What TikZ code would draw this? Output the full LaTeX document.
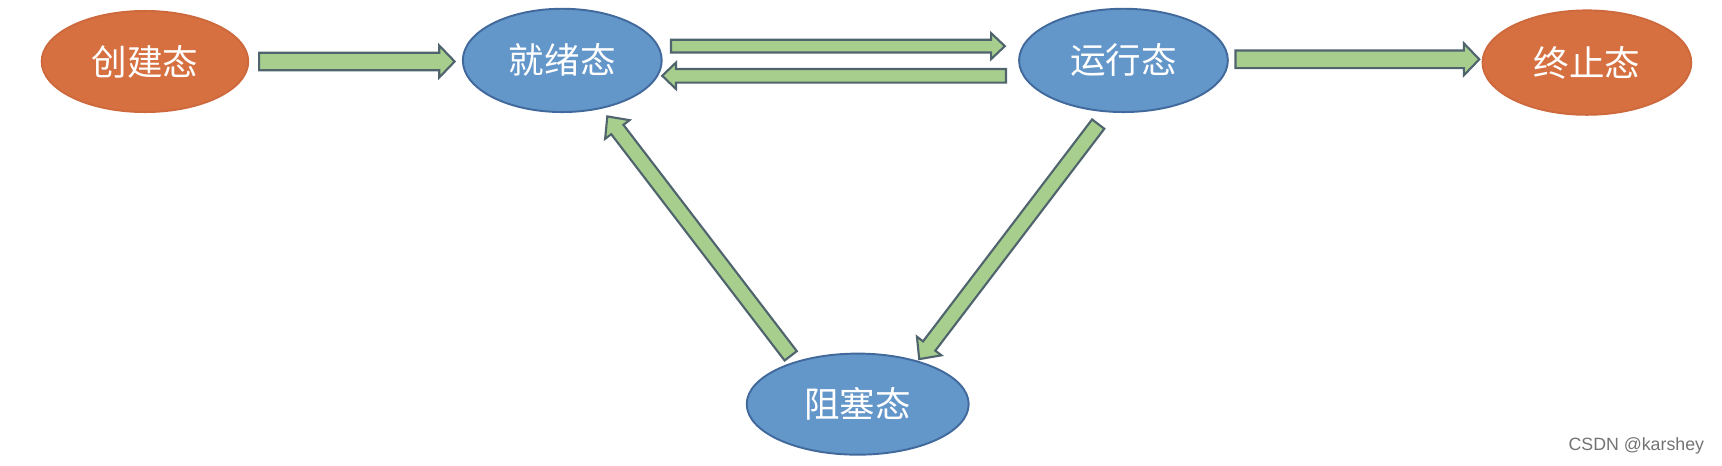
\documentclass[tikz,border=0pt]{standalone}
\usepackage{fontspec}
\newfontfamily\cjk{Noto Sans CJK SC}
\setsansfont{Liberation Sans}
\usetikzlibrary{shapes.geometric,calc}
\definecolor{stateorange}{RGB}{214,112,64}
\definecolor{orangeline}{RGB}{205,105,60}
\definecolor{stateblue}{RGB}{99,150,201}
\definecolor{blueline}{RGB}{65,105,155}
\definecolor{arrowgreen}{RGB}{168,206,142}
\definecolor{arrowline}{RGB}{80,100,110}
\tikzset{
	state/.style={ellipse,line width=0.5pt,text=white,inner sep=0pt,font=\cjk\fontsize{9.2}{9.2}\selectfont},
	startend/.style={state,fill=stateorange,draw=orangeline},
	normal/.style={state,fill=stateblue,draw=blueline},
	blockline/.style={fill=arrowgreen,draw=arrowline,line width=0.55pt,line join=miter}
}
% tail, tip, half shaft, half head, head length
\newcommand\blockarrow[5]{
	\coordinate (h) at ($(#2)!#5!(#1)$);
	\filldraw[blockline] ($(#1)!#3!90:(#2)$) -- ($(h)!#3!90:(#2)$) -- ($(h)!#4!90:(#2)$) -- (#2)
		-- ($(h)!#4!-90:(#2)$) -- ($(h)!#3!-90:(#2)$) -- ($(#1)!#3!-90:(#2)$) -- cycle;
}
\begin{document}
\begin{tikzpicture}[x=0.01cm,y=-0.01cm]
	\useasboundingbox (0,0) rectangle (1568,424);
	% states
	\node[startend,minimum width=1.88cm,minimum height=0.92cm] (create) at (132,56) {创建态};
	\node[normal,minimum width=1.81cm,minimum height=0.94cm] (ready) at (512,55) {就绪态};
	\node[normal,minimum width=1.90cm,minimum height=0.94cm] (run) at (1023,55) {运行态};
	\node[startend,minimum width=1.90cm,minimum height=0.95cm] (exit) at (1445,57) {终止态};
	\node[normal,minimum width=2.02cm,minimum height=0.92cm] (block) at (781,368) {阻塞态};
	% arrow ends
	\coordinate (createout) at (236,56);
	\coordinate (readyin) at (414,56);
	\coordinate (readyout) at (611,42);
	\coordinate (runin) at (915,42);
	\coordinate (runout) at (916,69);
	\coordinate (readyback) at (603,69);
	\coordinate (runexit) at (1125,54);
	\coordinate (exitin) at (1347,54);
	\coordinate (blockout) at (720,324);
	\coordinate (readyup) at (553,106);
	\coordinate (runwait) at (1000,113);
	\coordinate (blockin) at (837,327);
	% transitions
	\blockarrow{createout}{readyin}{0.08cm}{0.145cm}{0.14cm}
	\blockarrow{readyout}{runin}{0.058cm}{0.118cm}{0.125cm}
	\blockarrow{runout}{readyback}{0.062cm}{0.12cm}{0.125cm}
	\blockarrow{runexit}{exitin}{0.08cm}{0.145cm}{0.14cm}
	\blockarrow{blockout}{readyup}{0.07cm}{0.14cm}{0.15cm}
	\blockarrow{runwait}{blockin}{0.07cm}{0.14cm}{0.15cm}
	\node[font=\sffamily\fontsize{4.6}{5}\selectfont,text=black!55] (mark) at (1490,406) {CSDN @karshey};
\end{tikzpicture}
\end{document}
